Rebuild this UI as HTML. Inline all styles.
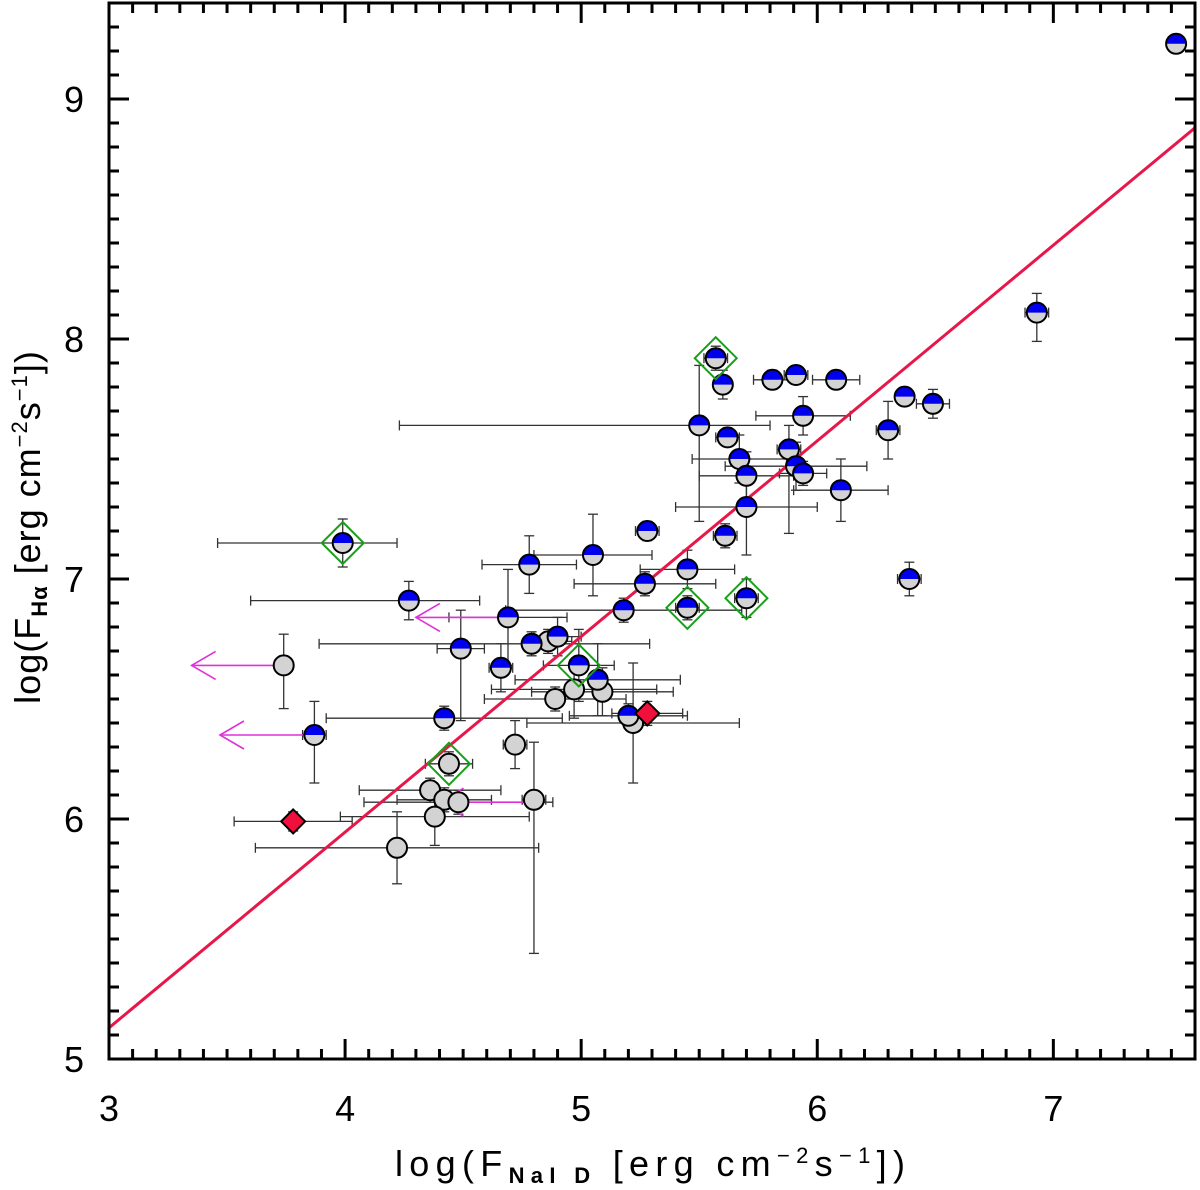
<!DOCTYPE html>
<html><head><meta charset="utf-8"><style>
body{margin:0;background:#fff;width:1200px;height:1190px;overflow:hidden}
svg{display:block;font-family:"Liberation Sans","DejaVu Sans",sans-serif}
</style></head><body>
<svg id="chart" width="1200" height="1190"></svg>
<script>
// blue half-filled points: x, y, x-error low/high, y-error low/high
const blueX=[7.52,6.93,5.57,5.60,5.81,5.91,6.08,6.37,6.49,5.94,5.50,5.62,6.30,5.67,5.88,5.70,5.91,5.94,6.10,5.70,5.28,5.61,3.99,5.05,4.78,5.45,5.27,6.39,4.27,5.70,5.45,5.18,4.69,4.90,4.79,4.49,4.66,4.99,5.07,4.42,5.20,3.87];
const blueY=[9.23,8.11,7.92,7.81,7.83,7.85,7.83,7.76,7.73,7.68,7.64,7.59,7.62,7.50,7.54,7.43,7.47,7.44,7.37,7.30,7.20,7.18,7.15,7.10,7.06,7.04,6.98,7.00,6.91,6.92,6.88,6.87,6.84,6.76,6.73,6.71,6.63,6.64,6.58,6.42,6.43,6.35];
const blueXlo=[0,0.05,0.05,0.03,0.08,0.05,0.1,0.03,0.07,0.2,1.27,0.05,0.05,0.2,0.05,0.2,0.3,0.1,0.2,0.3,0.05,0.05,0.53,0.25,0.2,0.2,0.3,0.05,0.67,0.05,0.05,0.5,0.25,0.1,0.9,0.1,0.05,0.15,0.35,0.5,0.25,0.05];
const blueXhi=[0,0.05,0.05,0.03,0.08,0.05,0.1,0.03,0.07,0.2,0.3,0.05,0.05,0.2,0.05,0.2,0.3,0.1,0.2,0.3,0.05,0.05,0.23,0.25,0.2,0.2,0.3,0.05,0.3,0.05,0.05,0.5,0.25,0.1,0.5,0.1,0.05,0.15,0.35,0.5,0.25,0.05];
const blueYlo=[0,0.12,0.05,0.06,0.04,0.03,0.03,0.03,0.06,0.08,0.4,0.03,0.12,0.1,0.35,0.1,0.1,0.05,0.13,0.2,0.04,0.05,0.1,0.17,0.12,0.08,0.05,0.07,0.08,0.08,0.05,0.05,0.2,0.08,0.05,0.3,0.1,0.15,0.15,0.05,0.05,0.2];
const blueYhi=[0,0.08,0.05,0.06,0.04,0.03,0.03,0.03,0.06,0.08,0.25,0.03,0.12,0.1,0.1,0.1,0.1,0.05,0.13,0.2,0.04,0.05,0.1,0.17,0.12,0.08,0.05,0.07,0.08,0.08,0.05,0.05,0.2,0.08,0.05,0.16,0.1,0.15,0.15,0.05,0.05,0.14];
// grey filled points
const greyX=[3.74,4.86,4.97,5.09,4.89,5.22,4.72,4.44,4.36,4.42,4.48,4.80,4.38,4.22];
const greyY=[6.64,6.74,6.54,6.53,6.50,6.40,6.31,6.23,6.12,6.08,6.07,6.08,6.01,5.88];
const greyXe=[0.03,0.1,0.35,0.3,0.3,0.45,0.05,0.1,0.3,0.2,0.4,0.05,0.4,0.6];
const greyYlo=[0.18,0.05,0.12,0.1,0.05,0.25,0.1,0.05,0.05,0.05,0.05,0.64,0.12,0.15];
const greyYhi=[0.13,0.05,0.12,0.1,0.05,0.25,0.1,0.05,0.05,0.05,0.05,0.24,0.12,0.15];
// red diamonds
const redX=[3.78,5.28];
const redY=[5.99,6.44];
const redXe=[0.25,0.15];
const redYe=[0.04,0.05];
// green diamond outlines
const greenX=[5.57,3.99,5.70,5.45,4.99,4.44];
const greenY=[7.92,7.15,6.92,6.88,6.64,6.23];
// upper-limit arrows (from, to, y)
const arrFrom=[3.74,3.87,4.69,4.80];
const arrTo=[3.35,3.47,4.30,4.40];
const arrY=[6.64,6.35,6.84,6.07];
// fit line
const fitX=[3,7.6];
const fitY=[5.13,8.88];
const xTicks=[3,4,5,6,7];
const yTicks=[5,6,7,8,9];

const NS="http://www.w3.org/2000/svg",svg=document.getElementById('chart');
const L=109,R=1195,T=3,B=1059,X0=3,X1=7.6,Y0=5,Y1=9.4;
const sx=v=>L+(v-X0)/(X1-X0)*(R-L), sy=v=>B-(v-Y0)/(Y1-Y0)*(B-T);
function el(t,a,p){const e=document.createElementNS(NS,t);for(const k in a)e.setAttribute(k,a[k]);(p||svg).appendChild(e);return e;}
const gErr=el('g',{});


function ebar(x,y,xl,xh,yl,yh){
  const st={stroke:'#333','stroke-width':1.3};
  if(xl||xh){el('line',{x1:sx(x-xl),x2:sx(x+xh),y1:sy(y),y2:sy(y),...st},gErr);
    [x-xl,x+xh].forEach(v=>el('line',{x1:sx(v),x2:sx(v),y1:sy(y)-5,y2:sy(y)+5,...st},gErr));}
  if(yl||yh){el('line',{x1:sx(x),x2:sx(x),y1:sy(y-yl),y2:sy(y+yh),...st},gErr);
    [y-yl,y+yh].forEach(v=>el('line',{x1:sx(x)-5,x2:sx(x)+5,y1:sy(v),y2:sy(v),...st},gErr));}
}
blueX.forEach((x,i)=>ebar(x,blueY[i],blueXlo[i],blueXhi[i],blueYlo[i],blueYhi[i]));
greyX.forEach((x,i)=>ebar(x,greyY[i],greyXe[i],greyXe[i],greyYlo[i],greyYhi[i]));
redX.forEach((x,i)=>ebar(x,redY[i],redXe[i],redXe[i],redYe[i],redYe[i]));
const fl=el('line',{x1:sx(fitX[0]),y1:sy(fitY[0]),x2:sx(fitX[1]),y2:sy(fitY[1]),stroke:'#e8174a','stroke-width':3});


arrFrom.forEach((a,i)=>{
  const g=el('g',{stroke:'#e030d8','stroke-width':1.6,fill:'none'});
  
  
  const y=sy(arrY[i]),x2=sx(arrTo[i]);
  el('line',{x1:sx(a),x2:x2,y1:y,y2:y},g);
  el('polyline',{points:`${x2+24},${y-14} ${x2},${y} ${x2+24},${y+14}`},g);
});
greyX.forEach((x,i)=>{
  const c=el('circle',{cx:sx(x),cy:sy(greyY[i]),r:10,fill:'#d3d3d3',stroke:'#000','stroke-width':2});
  
  
});
blueX.forEach((x,i)=>{
  const cx=sx(x),cy=sy(blueY[i]),r=10;
  const g=el('g',{});
  
  
  el('circle',{cx,cy,r,fill:'#d3d3d3'},g);
  el('path',{d:`M${cx-r},${cy} A${r},${r} 0 0 1 ${cx+r},${cy} Z`,fill:'#0000ee'},g);
  el('circle',{cx,cy,r,fill:'none',stroke:'#000','stroke-width':2},g);
});
redX.forEach((x,i)=>{
  const cx=sx(x),cy=sy(redY[i]),d=12;
  const p=el('polygon',{points:`${cx},${cy-d} ${cx+d},${cy} ${cx},${cy+d} ${cx-d},${cy}`,fill:'#f0103c',stroke:'#000','stroke-width':2});
  
  
});
greenX.forEach((x,i)=>{
  const cx=sx(x),cy=sy(greenY[i]),d=21;
  const p=el('polygon',{points:`${cx},${cy-d} ${cx+d},${cy} ${cx},${cy+d} ${cx-d},${cy}`,fill:'none',stroke:'#18a018','stroke-width':2});
  
  
});
const fr=el('rect',{x:L,y:T,width:R-L,height:B-T,fill:'none',stroke:'#000','stroke-width':3});


const tk=el('g',{stroke:'#000','stroke-width':3});


for(let k=0;k<=46;k++){const v=X0+k*0.1,x=sx(v),maj=k%10==0,len=maj?20:10;
  el('line',{x1:x,x2:x,y1:B,y2:B-len},tk);el('line',{x1:x,x2:x,y1:T,y2:T+len},tk);}
for(let k=0;k<=44;k++){const v=Y0+k*0.1,y=sy(v),maj=k%10==0,len=maj?20:10;
  el('line',{x1:L,x2:L+len,y1:y,y2:y},tk);el('line',{x1:R,x2:R-len,y1:y,y2:y},tk);}
xTicks.forEach(v=>{const t=el('text',{x:sx(v),y:1121,'font-size':36,'text-anchor':'middle'});t.textContent=v;
  
  });
yTicks.forEach(v=>{const t=el('text',{x:84,y:sy(v)+13,'font-size':36,'text-anchor':'end'});t.textContent=v;
  
  });
</script>
<svg width="1200" height="1190" style="position:absolute;left:0;top:0;font-family:'Liberation Sans','DejaVu Sans',sans-serif">
<text x="650" y="1176" font-size="36" textLength="510" lengthAdjust="spacing" text-anchor="middle">log(F<tspan font-size="22" font-weight="bold" dy="7">NaI D</tspan><tspan dy="-7"> [erg cm</tspan><tspan font-size="22" dy="-13">−2</tspan><tspan dy="13">s</tspan><tspan font-size="22" dy="-13">−1</tspan><tspan dy="13">])</tspan></text>
<text transform="translate(40,527) rotate(-90)" font-size="36" letter-spacing="1" text-anchor="middle">log(F<tspan font-size="22" font-weight="bold" dy="7">Hα</tspan><tspan dy="-7"> [erg cm</tspan><tspan font-size="22" dy="-13">−2</tspan><tspan dy="13">s</tspan><tspan font-size="22" dy="-13">−1</tspan><tspan dy="13">])</tspan></text>
</svg>
</body></html>
